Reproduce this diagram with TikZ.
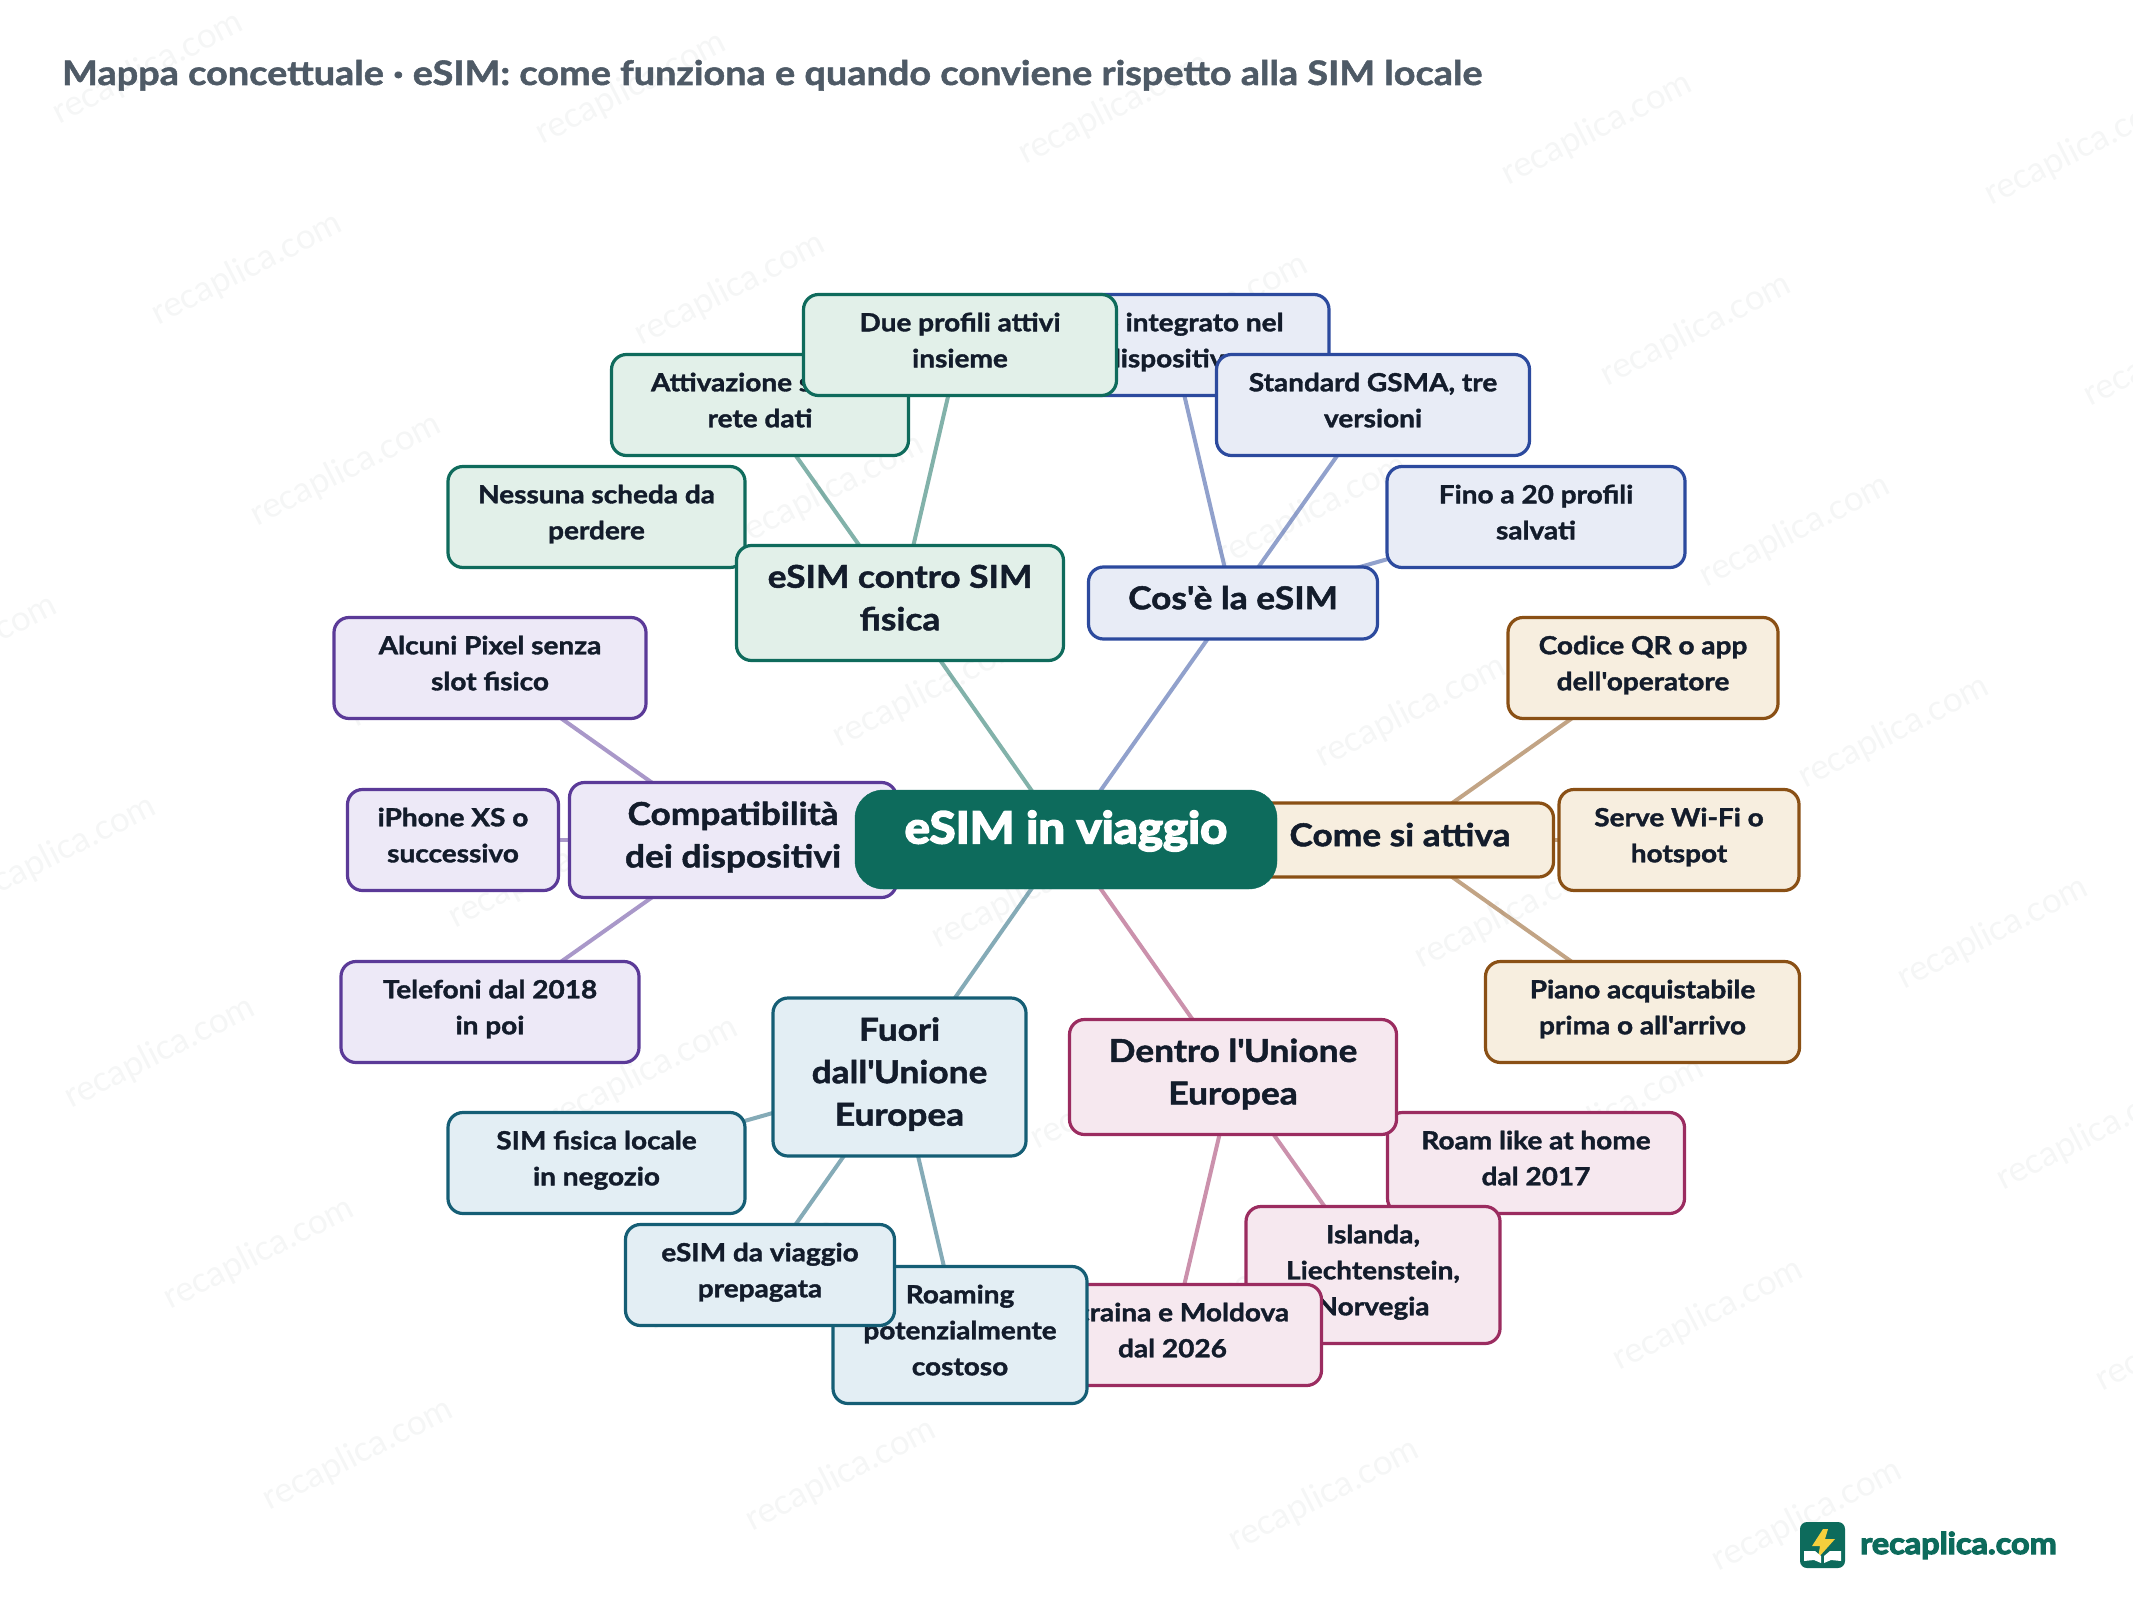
\documentclass[tikz,border=0pt]{standalone}
\usepackage{fontspec}
\setmainfont{Lato}[BoldFeatures={FakeStretch=1.12,FakeBold=1.5}]
\newfontfamily\heavyfont{Lato}[BoldFeatures={FakeStretch=1.08,FakeBold=4}]
\usetikzlibrary{backgrounds,positioning}
\definecolor{ink}{HTML}{131C2B}
\definecolor{titleink}{HTML}{4E5A66}
\definecolor{rootGreen}{HTML}{0D6B5C}
\definecolor{oiGreen}{HTML}{0F6B5C}
\definecolor{oiBlue}{HTML}{2C4A9E}
\definecolor{oiBrown}{HTML}{8A5015}
\definecolor{oiPink}{HTML}{9B2C60}
\definecolor{oiTeal}{HTML}{155E75}
\definecolor{oiPurple}{HTML}{5B3A98}
\definecolor{greenfill}{HTML}{E2F0E9}
\definecolor{bluefill}{HTML}{E8ECF6}
\definecolor{brownfill}{HTML}{F7EEDF}
\definecolor{pinkfill}{HTML}{F6E8EF}
\definecolor{tealfill}{HTML}{E3EEF4}
\definecolor{purplefill}{HTML}{EDE9F7}
\definecolor{watermark}{HTML}{F5F6F6}
\definecolor{boltYellow}{HTML}{F6CF3C}
\tikzset{
  every node/.style={text=ink},
  root/.style={fill=rootGreen, draw=rootGreen, rounded corners=28pt, align=center,
    inner sep=0pt, text depth=25pt, minimum width=422pt, minimum height=99pt,
    font=\fontsize{44}{48}\heavyfont\bfseries, text=white},
  branch/.style={rounded corners=15pt, line width=3.2pt, align=center, inner sep=0pt,
    text depth=11pt, font=\fontsize{31.5}{42.5}\selectfont\bfseries},
  leaf/.style={rounded corners=15pt, line width=3.2pt, align=center, inner sep=0pt,
    text depth=10pt, font=\fontsize{25}{36}\selectfont\bfseries},
  size/.style n args={2}{minimum width=#1pt, minimum height=#2pt},
  cgreen/.style={draw=oiGreen, fill=greenfill},
  cblue/.style={draw=oiBlue, fill=bluefill},
  cbrown/.style={draw=oiBrown, fill=brownfill},
  cpink/.style={draw=oiPink, fill=pinkfill},
  cteal/.style={draw=oiTeal, fill=tealfill},
  cpurple/.style={draw=oiPurple, fill=purplefill},
  link/.style={line width=4pt, draw opacity=.52},
  wmtext/.style={font=\fontsize{35}{36}\selectfont, text=watermark, rotate=27, inner sep=0pt}
}
\begin{document}
\begin{tikzpicture}[x=1pt,y=-1pt]
\useasboundingbox (0,0) rectangle (2133,1600);

\node[font=\fontsize{33.8}{38}\selectfont\bfseries, text=titleink, anchor=base west, inner sep=0pt] (title) at (62,85)
  {Mappa concettuale · eSIM: come funziona e quando conviene rispetto alla SIM locale};

% Branch: eSIM contro SIM fisica
\node[leaf, cgreen, size={297}{101}] (nessuna) at (596.5,517) {Nessuna scheda da\\perdere};
\node[leaf, cgreen, size={297}{101}] (attivazione) at (760,405) {Attivazione senza\\rete dati};
\node[leaf, cblue, size={313}{101}] (chip) at (1172.5,345) {Chip integrato nel\\dispositivo};
\node[leaf, cgreen, size={313}{101}] (dueprofili) at (960,345) {Due profili attivi\\insieme};
\node[branch, cgreen, size={327}{115}] (contro) at (900,603) {eSIM contro SIM\\fisica};

% Branch: Cos'è la eSIM
\node[leaf, cblue, size={313}{101}] (standard) at (1373,405) {Standard GSMA, tre\\versioni};
\node[leaf, cblue, size={298}{101}] (fino) at (1536,517) {Fino a 20 profili\\salvati};
\node[branch, cblue, size={289}{72}] (cose) at (1233,603) {Cos\textquotesingle è la eSIM};

% Branch: Come si attiva
\node[leaf, cbrown, size={270}{101}] (codice) at (1643,668) {Codice QR o app\\dell\textquotesingle operatore};
\node[leaf, cbrown, size={240}{101}] (serve) at (1679,840) {Serve Wi-Fi o\\hotspot};
\node[leaf, cbrown, size={314}{101}] (piano) at (1642.5,1012) {Piano acquistabile\\prima o all\textquotesingle arrivo};
\node[branch, cbrown, size={307}{74}] (attiva) at (1400,840) {Come si attiva};

% Branch: Dentro l'Unione Europea
\node[leaf, cpink, size={297}{101}] (roamlike) at (1536,1163) {Roam like at home\\dal 2017};
\node[leaf, cpink, size={254}{137}] (islanda) at (1373,1275) {Islanda,\\Liechtenstein,\\Norvegia};
\node[leaf, cpink, size={298}{101}] (ucraina) at (1172.5,1335) {Ucraina e Moldova\\dal 2026};
\node[branch, cpink, size={327}{115}] (dentro) at (1233,1077) {Dentro l\textquotesingle Unione\\Europea};

% Branch: Fuori dall'Unione Europea
\node[leaf, cteal, size={297}{101}] (simlocale) at (596.5,1163) {SIM fisica locale\\in negozio};
\node[leaf, cteal, size={254}{137}] (roaming) at (960,1335) {Roaming\\potenzialmente\\costoso};
\node[leaf, cteal, size={269}{101}] (viaggio) at (760,1275) {eSIM da viaggio\\prepagata};
\node[branch, cteal, size={253}{158}] (fuori) at (899.5,1077) {Fuori\\dall\textquotesingle Unione\\Europea};

% Branch: Compatibilità dei dispositivi
\node[leaf, cpurple, size={312}{101}] (pixel) at (490,668) {Alcuni Pixel senza\\slot fisico};
\node[leaf, cpurple, size={211}{101}] (iphone) at (453,840) {iPhone XS o\\successivo};
\node[leaf, cpurple, size={298}{101}] (telefoni) at (490,1012) {Telefoni dal 2018\\in poi};
\node[branch, cpurple, size={327}{115}] (compat) at (733,840) {Compatibilità\\dei dispositivi};

\node[root] (center) at (1066,839.5) {eSIM in viaggio};

% Connectors run centre to centre, under every box.
\begin{scope}[on background layer]
  \foreach \row in {0,...,7} {
    \foreach \col in {-2,...,4} {
      \node[wmtext] (wm\row\col) at ({148+483*\col+99*\row},{68+20.4*\col+201*\row}) {recaplica.com};
    }
  }
  \draw[link, oiGreen] (center.center) -- (contro.center);
  \draw[link, oiBlue] (center.center) -- (cose.center);
  \draw[link, oiBrown] (center.center) -- (attiva.center);
  \draw[link, oiPink] (center.center) -- (dentro.center);
  \draw[link, oiTeal] (center.center) -- (fuori.center);
  \draw[link, oiPurple] (center.center) -- (compat.center);
  \draw[link, oiGreen] (contro.center) -- (nessuna.center);
  \draw[link, oiGreen] (contro.center) -- (attivazione.center);
  \draw[link, oiGreen] (contro.center) -- (dueprofili.center);
  \draw[link, oiBlue] (cose.center) -- (chip.center);
  \draw[link, oiBlue] (cose.center) -- (standard.center);
  \draw[link, oiBlue] (cose.center) -- (fino.center);
  \draw[link, oiBrown] (attiva.center) -- (codice.center);
  \draw[link, oiBrown] (attiva.center) -- (serve.center);
  \draw[link, oiBrown] (attiva.center) -- (piano.center);
  \draw[link, oiPink] (dentro.center) -- (roamlike.center);
  \draw[link, oiPink] (dentro.center) -- (islanda.center);
  \draw[link, oiPink] (dentro.center) -- (ucraina.center);
  \draw[link, oiTeal] (fuori.center) -- (simlocale.center);
  \draw[link, oiTeal] (fuori.center) -- (viaggio.center);
  \draw[link, oiTeal] (fuori.center) -- (roaming.center);
  \draw[link, oiPurple] (compat.center) -- (pixel.center);
  \draw[link, oiPurple] (compat.center) -- (iphone.center);
  \draw[link, oiPurple] (compat.center) -- (telefoni.center);
\end{scope}

% Logo
\fill[rootGreen, rounded corners=7pt] (1800,1522) rectangle (1845,1568);
\fill[boltYellow] (1823,1529) -- (1812,1546) -- (1820,1546) -- (1818,1558) -- (1835,1539) -- (1825,1539) -- (1828,1529) -- cycle;
\fill[white] (1804,1551) -- (1815,1551) -- (1821,1556) -- (1821,1563) -- (1814,1560) -- (1804,1561) -- cycle;
\fill[white] (1841,1551) -- (1830,1551) -- (1824,1556) -- (1824,1563) -- (1831,1560) -- (1841,1561) -- cycle;
\node[font=\fontsize{30}{36}\heavyfont\bfseries, text=rootGreen, anchor=base west, inner sep=0pt] (logotext) at (1860,1554) {recaplica.com};
\end{tikzpicture}
\end{document}
